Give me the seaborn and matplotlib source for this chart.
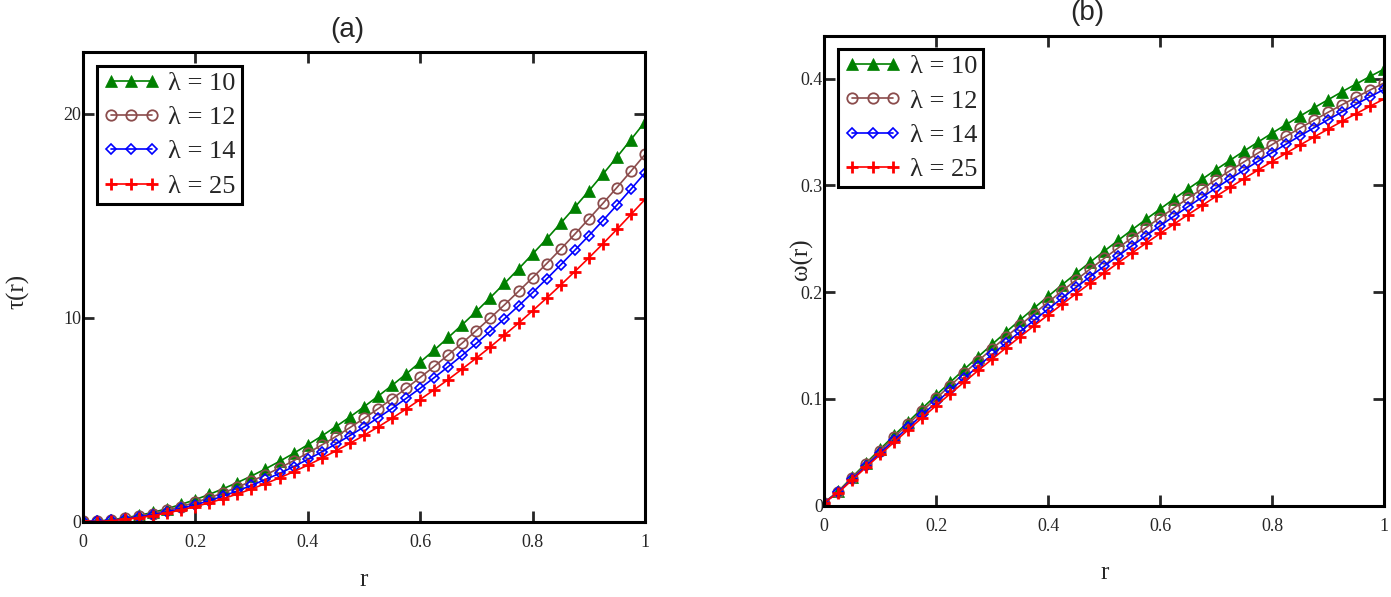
import matplotlib
matplotlib.use("Agg")
import matplotlib.pyplot as plt
import seaborn as sns

# ── data ──────────────────────────────────────────────────────────────────────

R = [0.0, 0.025, 0.05, 0.075, 0.1, 0.125, 0.15, 0.175, 0.2, 0.225,
     0.25, 0.275, 0.3, 0.325, 0.35, 0.375, 0.4, 0.425, 0.45, 0.475,
     0.5, 0.525, 0.55, 0.575, 0.6, 0.625, 0.65, 0.675, 0.7, 0.725,
     0.75, 0.775, 0.8, 0.825, 0.85, 0.875, 0.9, 0.925, 0.95, 0.975, 1.0]

LAMBDAS = ["10", "12", "14", "25"]

# panel (a): tau(r)
TAU_10 = [0.02, 0.03, 0.09, 0.19, 0.31, 0.46, 0.64, 0.85, 1.08, 1.34,
          1.62, 1.92, 2.24, 2.59, 2.96, 3.35, 3.77, 4.20, 4.66, 5.13,
          5.63, 6.15, 6.68, 7.24, 7.82, 8.41, 9.03, 9.66, 10.31, 10.99,
          11.68, 12.39, 13.12, 13.86, 14.63, 15.41, 16.21, 17.03, 17.87, 18.73, 19.60]
TAU_12 = [0.02, 0.02, 0.07, 0.16, 0.27, 0.40, 0.56, 0.74, 0.95, 1.17,
          1.42, 1.69, 1.99, 2.30, 2.63, 2.99, 3.36, 3.76, 4.17, 4.61,
          5.06, 5.53, 6.02, 6.53, 7.07, 7.61, 8.18, 8.76, 9.37, 9.99,
          10.63, 11.29, 11.96, 12.65, 13.36, 14.09, 14.84, 15.60, 16.38, 17.18, 18.00]
TAU_14 = [0.02, 0.02, 0.06, 0.13, 0.23, 0.34, 0.48, 0.65, 0.83, 1.03,
          1.26, 1.51, 1.78, 2.07, 2.37, 2.70, 3.05, 3.42, 3.81, 4.22,
          4.64, 5.09, 5.55, 6.04, 6.54, 7.06, 7.60, 8.16, 8.74, 9.34,
          9.95, 10.58, 11.23, 11.90, 12.59, 13.30, 14.02, 14.76, 15.52, 16.30, 17.10]
TAU_25 = [0.02, 0.01, 0.05, 0.12, 0.20, 0.30, 0.43, 0.58, 0.74, 0.93,
          1.13, 1.36, 1.60, 1.87, 2.15, 2.45, 2.77, 3.11, 3.47, 3.84,
          4.23, 4.64, 5.07, 5.52, 5.99, 6.47, 6.97, 7.49, 8.02, 8.57,
          9.15, 9.73, 10.34, 10.96, 11.60, 12.26, 12.93, 13.62, 14.33, 15.06, 15.80]

# panel (b): omega(r)
OMEGA_10 = [0.003, 0.0135, 0.0269, 0.0401, 0.0531, 0.0660, 0.0787, 0.0912, 0.1036, 0.1157,
            0.1278, 0.1396, 0.1513, 0.1628, 0.1741, 0.1853, 0.1962, 0.2071, 0.2177, 0.2282,
            0.2385, 0.2486, 0.2586, 0.2684, 0.2780, 0.2875, 0.2968, 0.3059, 0.3149, 0.3236,
            0.3323, 0.3407, 0.3490, 0.3571, 0.3650, 0.3728, 0.3803, 0.3878, 0.3950, 0.4021, 0.4090]
OMEGA_12 = [0.003, 0.0132, 0.0262, 0.0390, 0.0517, 0.0642, 0.0766, 0.0887, 0.1007, 0.1126,
            0.1242, 0.1357, 0.1471, 0.1582, 0.1692, 0.1800, 0.1907, 0.2012, 0.2115, 0.2217,
            0.2317, 0.2415, 0.2511, 0.2606, 0.2699, 0.2790, 0.2880, 0.2968, 0.3055, 0.3139,
            0.3222, 0.3304, 0.3383, 0.3461, 0.3538, 0.3612, 0.3685, 0.3756, 0.3826, 0.3894, 0.3960]
OMEGA_14 = [0.003, 0.0126, 0.0251, 0.0374, 0.0496, 0.0616, 0.0735, 0.0852, 0.0968, 0.1082,
            0.1195, 0.1307, 0.1417, 0.1525, 0.1632, 0.1738, 0.1842, 0.1945, 0.2046, 0.2146,
            0.2244, 0.2341, 0.2436, 0.2530, 0.2622, 0.2713, 0.2802, 0.2890, 0.2977, 0.3062,
            0.3145, 0.3227, 0.3308, 0.3387, 0.3465, 0.3541, 0.3616, 0.3689, 0.3761, 0.3831, 0.3900]
OMEGA_25 = [0.003, 0.0122, 0.0243, 0.0362, 0.0480, 0.0597, 0.0712, 0.0826, 0.0938, 0.1049,
            0.1159, 0.1267, 0.1374, 0.1480, 0.1584, 0.1687, 0.1788, 0.1888, 0.1987, 0.2084,
            0.2180, 0.2275, 0.2368, 0.2460, 0.2550, 0.2639, 0.2727, 0.2813, 0.2898, 0.2982,
            0.3064, 0.3145, 0.3224, 0.3302, 0.3379, 0.3454, 0.3528, 0.3601, 0.3672, 0.3742, 0.3810]

X_TICKS = [0, 0.2, 0.4, 0.6, 0.8, 1]
X_TICK_LABELS = ["0", "0.2", "0.4", "0.6", "0.8", "1"]
TAU_TICKS = [0, 10, 20]
OMEGA_TICKS = [0, 0.1, 0.2, 0.3, 0.4]

# ── styling ───────────────────────────────────────────────────────────────────

sns.set_style("ticks")
plt.rcParams["font.family"] = ["Liberation Serif", "DejaVu Serif"]

STYLES = [
    dict(color="#008000", marker="^", markersize=8, markerfacecolor="#008000",
         markeredgecolor="#008000", markeredgewidth=0.5),
    dict(color="#8B4C4C", marker="o", markersize=7.5, markerfacecolor="none",
         markeredgecolor="#8B4C4C", markeredgewidth=1.3),
    dict(color="#0000FF", marker="D", markersize=5, markerfacecolor="none",
         markeredgecolor="#0000FF", markeredgewidth=1.2),
    dict(color="#FF0000", marker="+", markersize=9, markerfacecolor="#FF0000",
         markeredgecolor="#FF0000", markeredgewidth=2.0),
]


def draw_panel(ax, series, yticks, ylim, ylabel, label_xy, title, title_x):
    for name, vals, st in zip(LAMBDAS, series, STYLES):
        sns.lineplot(x=R, y=vals, ax=ax, linewidth=1.2, label=f"λ = {name}",
                     **st)

    ax.set_xlim(0, 1)
    ax.set_ylim(*ylim)
    ax.set_xticks(X_TICKS)
    ax.set_xticklabels(X_TICK_LABELS)
    ax.set_yticks(yticks)
    ax.set_yticklabels([f"{t:g}" for t in yticks])
    ax.tick_params(direction="in", length=8, width=2, labelsize=13,
                   top=True, right=True, pad=1)
    ax.tick_params(axis="x", pad=9)
    for sp in ax.spines.values():
        sp.set_visible(True)
        sp.set_linewidth(2.2)
        sp.set_color("black")

    ax.set_xlabel("r", fontsize=18, va="center")
    ax.set_ylabel(ylabel, fontsize=18, va="center", ha="center")
    ax.xaxis.set_label_coords(0.5, label_xy[1])
    ax.yaxis.set_label_coords(label_xy[0], label_xy[2])
    ax.text(title_x, 1.048, title, transform=ax.transAxes, ha="center",
            va="center", fontsize=20, family="Liberation Sans")

    leg = ax.legend(loc="upper left", bbox_to_anchor=(0.025, 0.972),
                    borderaxespad=0, fontsize=19, numpoints=3,
                    handlelength=2.17, handletextpad=0.32, labelspacing=0.41,
                    borderpad=0.22, fancybox=False, framealpha=1)
    leg.get_frame().set_edgecolor("black")
    leg.get_frame().set_linewidth(2.2)


fig = plt.figure(figsize=(13.91, 5.97), dpi=100)
ax_a = fig.add_axes([0.0595, 0.1261, 0.4042, 0.7860])
ax_b = fig.add_axes([0.5926, 0.1529, 0.4024, 0.7868])

draw_panel(ax_a, [TAU_10, TAU_12, TAU_14, TAU_25], TAU_TICKS, (0, 23),
           "τ(r)", (-0.115, -0.124, 0.49), "(a)", 0.47)
draw_panel(ax_b, [OMEGA_10, OMEGA_12, OMEGA_14, OMEGA_25], OMEGA_TICKS,
           (0, 0.44), "ω(r)", (-0.04, -0.143, 0.525), "(b)", 0.469)

fig.savefig("out.png", dpi=100)
plt.close(fig)
